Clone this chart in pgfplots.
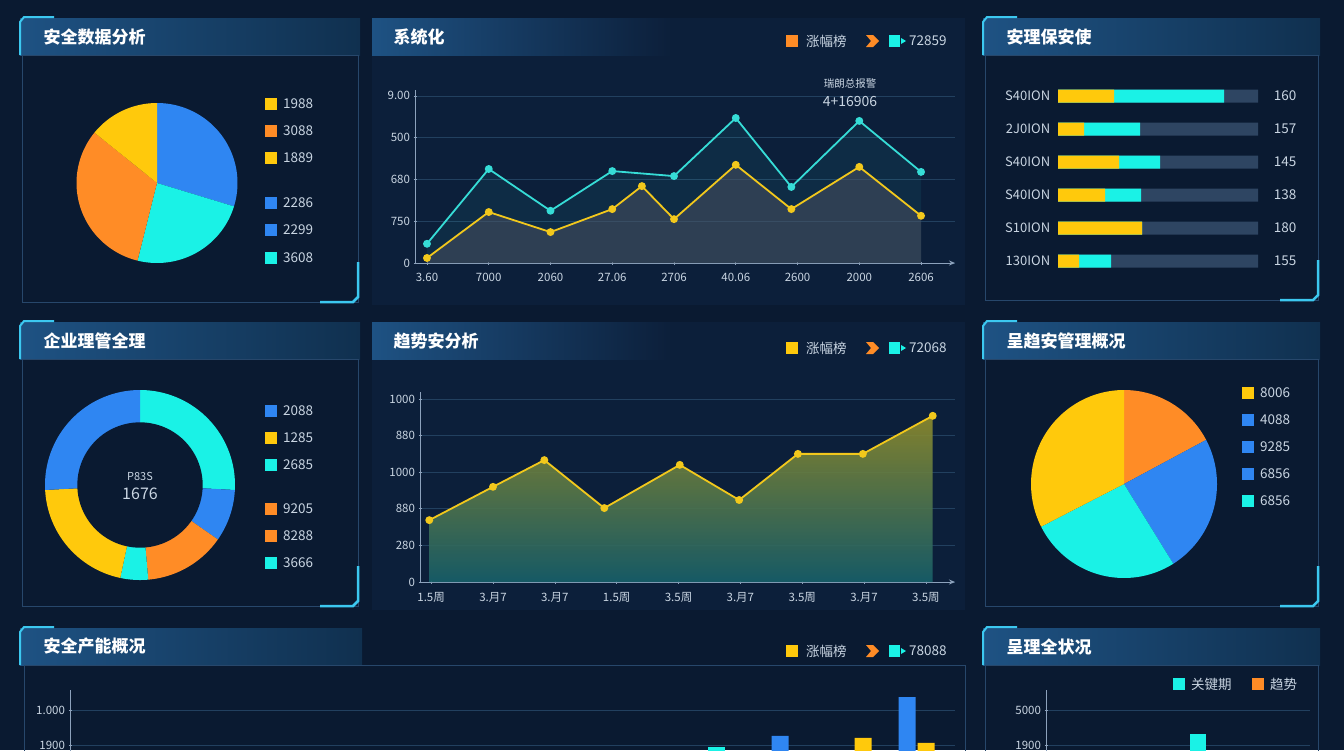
\documentclass[border=0pt]{standalone}
\usepackage{fontspec}
\setmainfont{Noto Sans CJK SC}
\usepackage{pgfplots}
\pgfplotsset{compat=1.18}
\usetikzlibrary{arrows.meta}

\definecolor{bg}{HTML}{0A1A31}
\definecolor{panel}{HTML}{0C1F3A}
\definecolor{frame}{HTML}{27476B}
\definecolor{tbl}{HTML}{1E5283}
\definecolor{tbr}{HTML}{10304F}
\definecolor{accent}{HTML}{3CC8F0}
\definecolor{cy}{HTML}{1AF2E6}
\definecolor{ye}{HTML}{FFC90C}
\definecolor{og}{HTML}{FF8C26}
\definecolor{bl}{HTML}{2F86F2}
\definecolor{track}{HTML}{2E4562}
\definecolor{tick}{HTML}{C9D5E2}
\definecolor{axc}{HTML}{8DA2BC}
\definecolor{gridc}{HTML}{22405F}
\definecolor{lcy}{HTML}{36DCD6}
\definecolor{lye}{HTML}{F2C81C}
\definecolor{areagray}{HTML}{4A5060}
\definecolor{areatop}{HTML}{8F8C2C}
\definecolor{areabot}{HTML}{17606A}

\newcommand{\fs}[1]{\fontsize{#1pt}{#1pt}\selectfont}

% framed panel: x1 y1 x2 y2 title
\newcommand{\boxpanel}[5]{%
  \shade[left color=tbl, right color=tbr] (#1-2,#2) rectangle (#3+2,#2+37);
  \draw[frame, line width=1pt] (#1,#2+37) rectangle (#3,#4);
  \draw[accent, line width=2pt] (#1-2,#2+37) -- (#1-2,#2+4) -- (#1+2,#2-1) -- (#1+32,#2-1);
  \draw[accent, line width=2.5pt] (#3,#4-40) -- (#3,#4-5) -- (#3-5,#4) -- (#3-38,#4);
  \node[anchor=west, text=white, font=\fs{17}\bfseries] at (#1+18,#2+19) {#5};
}
% open chart panel
\newcommand{\linepanel}[5]{%
  \fill[panel] (#1,#2) rectangle (#3,#4);
  \shade[left color=tbl, right color=panel] (#1,#2) rectangle (#1+300,#2+37);
  \node[anchor=west, text=white, font=\fs{17}\bfseries] at (#1+18,#2+19) {#5};
}
\newcommand{\lsq}[3]{\fill[#1] (#2,#3-6) rectangle (#2+12,#3+6);}
\newcommand{\ltxt}[3]{\node[anchor=west, text=tick, font=\fs{13.5}, inner sep=0pt] at (#1,#2) {#3};}
% legend of the line panels: y, first colour, name, code
\newcommand{\toplegend}[4]{%
  \lsq{#2}{786}{#1}\ltxt{806}{#1}{#3}
  \fill[og] (866,#1-6) -- (873,#1-6) -- (879,#1) -- (873,#1+6) -- (866,#1+6) -- (871,#1) -- cycle;
  \fill[cy] (889,#1-6) rectangle (900,#1+6);
  \fill[cy] (901,#1-3) -- (906,#1) -- (901,#1+3) -- cycle;
  \ltxt{909}{#1}{#4}
}

\pgfplotsset{
  lineax/.style={
    scale only axis, axis x line=bottom, axis y line=left,
    x axis line style={draw=axc, line width=1pt, -{Stealth[length=6pt,width=5pt]}},
    y axis line style={draw=axc, line width=0.8pt, -},
    tick style={draw=axc, line width=0.6pt}, major tick length=3pt,
    tick label style={font=\fs{11.5}, text=tick},
    xticklabel style={yshift=-5pt},
    ymajorgrids, grid style={draw=gridc, line width=0.7pt},
    /pgf/number format/assume math mode=true,
    clip=false,
  },
  pieax/.style={hide axis, scale only axis, anchor=center,
    xmin=-1, xmax=1, ymin=-1, ymax=1, clip=false},
}

\begin{document}
\begin{tikzpicture}[x=1pt,y=-1pt]
\path[use as bounding box] (0,0) rectangle (1344,750);
\clip (0,0) rectangle (1344,750);
\fill[bg] (0,0) rectangle (1344,750);

% ---------- panels ----------
\boxpanel{22}{18}{358}{302}{安全数据分析}
\linepanel{372}{18}{965}{305}{系统化}
\boxpanel{985}{18}{1318}{300}{安理保安使}
\boxpanel{22}{322}{358}{606}{企业理管全理}
\linepanel{372}{322}{965}{610}{趋势安分析}
\boxpanel{985}{322}{1318}{606}{呈趋安管理概况}
\shade[left color=tbl, right color=tbr] (20,628) rectangle (362,665);
\draw[frame, line width=1pt] (24,665) rectangle (965,800);
\draw[accent, line width=2pt] (20,665) -- (20,632) -- (24,627) -- (54,627);
\node[anchor=west, text=white, font=\fs{17}\bfseries] at (40,646) {安全产能概况};
\boxpanel{985}{628}{1318}{800}{呈理全状况}

% ---------- top left pie ----------
\begin{axis}[pieax, at={(157pt,-183pt)}, width=161pt, height=160pt]
\addplot[draw=none, fill=bl, domain=-17:90, samples=60] ({cos(x)},{sin(x)}) -- (axis cs:0,0) -- cycle;
\addplot[draw=none, fill=cy, domain=-104:-17, samples=60] ({cos(x)},{sin(x)}) -- (axis cs:0,0) -- cycle;
\addplot[draw=none, fill=og, domain=141:256, samples=60] ({cos(x)},{sin(x)}) -- (axis cs:0,0) -- cycle;
\addplot[draw=none, fill=ye, domain=90:141, samples=40] ({cos(x)},{sin(x)}) -- (axis cs:0,0) -- cycle;
\end{axis}
\lsq{ye}{265}{104}\ltxt{283}{104}{1988}
\lsq{og}{265}{131}\ltxt{283}{131}{3088}
\lsq{ye}{265}{158}\ltxt{283}{158}{1889}
\lsq{bl}{265}{203}\ltxt{283}{203}{2286}
\lsq{bl}{265}{230}\ltxt{283}{230}{2299}
\lsq{cy}{265}{258}\ltxt{283}{258}{3608}

% ---------- top middle line chart ----------
\toplegend{41}{og}{涨幅榜}{72859}
\begin{axis}[lineax, at={(415pt,-263pt)}, anchor=south west,
  width=540pt, height=173pt,
  xmin=-0.194, xmax=8.55, ymin=0, ymax=4.14,
  ytick={0,1,2,3,4}, yticklabels={0,750,680,500,9.00},
  xtick={0,...,8}, xticklabels={3.60,7000,2060,27.06,2706,40.06,2600,2000,2606}]
\addplot[draw=none, fill=lcy, fill opacity=0.07] coordinates
  {(0,0.46)(1,2.25)(2,1.25)(3,2.2)(4,2.08)(5,3.47)(5.9,1.82)(7,3.4)(8,2.18)} \closedcycle;
\addplot[draw=none, fill=areagray, fill opacity=0.55] coordinates
  {(0,0.12)(1,1.22)(2,0.74)(3,1.29)(3.48,1.84)(4,1.05)(5,2.35)(5.9,1.29)(7,2.3)(8,1.13)} \closedcycle;
\addplot[lcy, line width=1.8pt, mark=*, mark size=3pt] coordinates
  {(0,0.46)(1,2.25)(2,1.25)(3,2.2)(4,2.08)(5,3.47)(5.9,1.82)(7,3.4)(8,2.18)};
\addplot[lye, line width=1.8pt, mark=*, mark size=3pt] coordinates
  {(0,0.12)(1,1.22)(2,0.74)(3,1.29)(3.48,1.84)(4,1.05)(5,2.35)(5.9,1.29)(7,2.3)(8,1.13)};
\end{axis}
\node[text=tick, font=\fs{10.5}] at (850,84) {瑞朗总报警};
\node[text=tick, font=\fs{14}] at (850,102) {4+16906};

% ---------- top right progress bars ----------
\begin{axis}[at={(1058pt,-277.5pt)}, anchor=south west, scale only axis,
  width=200pt, height=198pt, xmin=0, xmax=100, ymin=0.5, ymax=6.5,
  y dir=reverse, axis line style={draw=none}, tick style={draw=none},
  xtick=\empty, ytick={1,...,6},
  yticklabels={S40ION,2J0ION,S40ION,S40ION,S10ION,130ION},
  yticklabel style={font=\fs{13}, text=tick},
  xbar, bar shift=0pt, bar width=13pt, clip=false]
\addplot[draw=none, fill=track] coordinates {(100,1)(100,2)(100,3)(100,4)(100,5)(100,6)};
% yellow + cyan total
\addplot[draw=none, fill=cy] coordinates {(83,1)(41,2)(51,3)(41.5,4)(42,5)(26.5,6)};
% yellow part
\addplot[draw=none, fill=ye] coordinates {(28,1)(13,2)(30.5,3)(23.5,4)(42,5)(10.5,6)};
\end{axis}
\foreach \v/\y in {160/96,157/129,145/162,138/195,180/228,155/261}
  \node[text=tick, font=\fs{13.5}] at (1285,\y) {\v};

% ---------- middle left donut ----------
\begin{axis}[pieax, at={(140pt,-485pt)}, width=190pt, height=190pt]
\addplot[draw=none, fill=cy, domain=-3:90, samples=60] ({cos(x)},{sin(x)}) -- (axis cs:0,0) -- cycle;
\addplot[draw=none, fill=bl, domain=-35:-3, samples=30] ({cos(x)},{sin(x)}) -- (axis cs:0,0) -- cycle;
\addplot[draw=none, fill=og, domain=-85:-35, samples=40] ({cos(x)},{sin(x)}) -- (axis cs:0,0) -- cycle;
\addplot[draw=none, fill=cy, domain=-102:-85, samples=20] ({cos(x)},{sin(x)}) -- (axis cs:0,0) -- cycle;
\addplot[draw=none, fill=ye, domain=183:258, samples=50] ({cos(x)},{sin(x)}) -- (axis cs:0,0) -- cycle;
\addplot[draw=none, fill=bl, domain=90:183, samples=60] ({cos(x)},{sin(x)}) -- (axis cs:0,0) -- cycle;
\addplot[draw=none, fill=bg, domain=0:360, samples=90] ({0.66*cos(x)},{0.66*sin(x)}) -- cycle;
\end{axis}
\node[text=tick, font=\fs{11}] at (140,476) {P83S};
\node[text=tick, font=\fs{16}] at (140,494) {1676};
\lsq{bl}{265}{411}\ltxt{283}{411}{2088}
\lsq{ye}{265}{438}\ltxt{283}{438}{1285}
\lsq{cy}{265}{465}\ltxt{283}{465}{2685}
\lsq{og}{265}{509}\ltxt{283}{509}{9205}
\lsq{og}{265}{536}\ltxt{283}{536}{8288}
\lsq{cy}{265}{563}\ltxt{283}{563}{3666}

% ---------- middle area chart ----------
\toplegend{348}{ye}{涨幅榜}{72068}
\begin{axis}[lineax, at={(420pt,-582pt)}, anchor=south west,
  width=535pt, height=190pt,
  xmin=-0.18, xmax=8.47, ymin=0, ymax=5.19,
  ytick={0,...,5}, yticklabels={0,280,880,1000,880,1000},
  xtick={0,...,8}, xticklabels={1.5周,3.月7,3.月7,1.5周,3.5周,3.月7,3.5周,3.月7,3.5周}]
\addplot[draw=none, top color=areatop, bottom color=areabot, fill opacity=0.9] coordinates
  {(-0.03,1.69)(1,2.6)(1.83,3.33)(2.8,2.02)(4.02,3.2)(4.98,2.24)(5.93,3.5)(6.98,3.5)(8.11,4.54)} \closedcycle;
\addplot[lye, line width=1.8pt, mark=*, mark size=3pt] coordinates
  {(-0.03,1.69)(1,2.6)(1.83,3.33)(2.8,2.02)(4.02,3.2)(4.98,2.24)(5.93,3.5)(6.98,3.5)(8.11,4.54)};
\end{axis}

% ---------- middle right pie ----------
\begin{axis}[pieax, at={(1124pt,-484pt)}, width=186pt, height=188pt]
\addplot[draw=none, fill=og, domain=28:90, samples=40] ({cos(x)},{sin(x)}) -- (axis cs:0,0) -- cycle;
\addplot[draw=none, fill=bl, domain=-58:28, samples=50] ({cos(x)},{sin(x)}) -- (axis cs:0,0) -- cycle;
\addplot[draw=none, fill=cy, domain=207:302, samples=50] ({cos(x)},{sin(x)}) -- (axis cs:0,0) -- cycle;
\addplot[draw=none, fill=ye, domain=90:207, samples=60] ({cos(x)},{sin(x)}) -- (axis cs:0,0) -- cycle;
\end{axis}
\lsq{ye}{1242}{393}\ltxt{1260}{393}{8006}
\lsq{bl}{1242}{420}\ltxt{1260}{420}{4088}
\lsq{bl}{1242}{447}\ltxt{1260}{447}{9285}
\lsq{bl}{1242}{474}\ltxt{1260}{474}{6856}
\lsq{cy}{1242}{501}\ltxt{1260}{501}{6856}

% ---------- bottom bar chart ----------
\toplegend{651}{ye}{涨幅榜}{78088}
\begin{axis}[lineax, at={(70pt,-780pt)}, anchor=south west,
  width=885pt, height=90pt, xmin=0, xmax=885, ymin=0, ymax=2.57,
  ytick={1,2}, yticklabels={1900,1.000}, xtick=\empty,
  ybar, bar shift=0pt, bar width=17pt]
\addplot[draw=none, fill=cy] coordinates {(646,0.94)};
\addplot[draw=none, fill=bl] coordinates {(710,1.26)(837,2.37)};
\addplot[draw=none, fill=ye] coordinates {(793,1.2)(856,1.06)};
\end{axis}

% ---------- bottom right ----------
\lsq{cy}{1173}{684}\ltxt{1191}{684}{关键期}
\lsq{og}{1252}{684}\ltxt{1270}{684}{趋势}
\begin{axis}[lineax, at={(1046pt,-780pt)}, anchor=south west,
  width=264pt, height=90pt, xmin=0, xmax=264, ymin=0, ymax=2.57,
  ytick={1,2}, yticklabels={1900,5000}, xtick=\empty,
  ybar, bar shift=0pt, bar width=16pt]
\addplot[draw=none, fill=cy] coordinates {(152,1.31)};
\end{axis}
\end{tikzpicture}
\end{document}
